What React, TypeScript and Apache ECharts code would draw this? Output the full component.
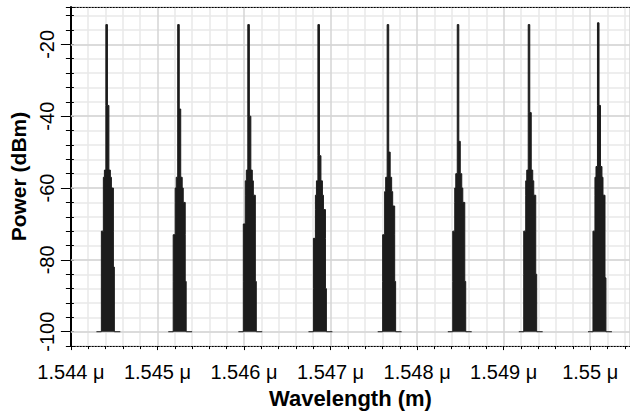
import React, { useEffect, useRef } from "react";
import * as echarts from "echarts";

// Channel centre wavelengths (µm)
const channelCenters = [1.54441, 1.54524, 1.54605, 1.54686, 1.54766, 1.54847, 1.54929, 1.55009];

// Band top levels (dBm) per channel, from the carrier tip downwards
const ch1Levels = [-14.5, -37, -55, -57, -60, -72, -82];
const ch2Levels = [-14.5, -38, -57, -60, -64, -73, -86];
const ch3Levels = [-14.5, -40, -55, -58, -62, -70, -86];
const ch4Levels = [-14.5, -51, -58, -62, -66, -74, -88];
const ch5Levels = [-14.5, -50, -57, -61, -65, -73, -86];
const ch6Levels = [-14.5, -47, -56, -60, -64, -72, -86];
const ch7Levels = [-14.5, -39, -55, -58, -62, -72, -84];
const ch8Levels = [-14, -37, -54, -57, -62, -72, -85];
const channelLevels = [ch1Levels, ch2Levels, ch3Levels, ch4Levels, ch5Levels, ch6Levels, ch7Levels, ch8Levels];

// Band edges relative to the channel centre (pm)
const bandLeftPm = [-6, -6, -23, -35, -35, -58, -58];
const bandRightPm = [12, 29, 46, 58, 81, 81, 92];
// Floor line (-100 dBm) span around each channel (pm)
const floorSpanPm = [-115, 161];
const floorLevel = -100;

const yLabelValues = [-100, -80, -60, -40, -20];

function outline(center: number, levels: number[]) {
  const toX = (pm: number) => center + pm * 1e-6;
  const pts: number[][] = [];
  const n = levels.length;
  pts.push([toX(floorSpanPm[0]), floorLevel]);
  for (let i = n - 1; i >= 0; i--) {
    const bottom = i === n - 1 ? floorLevel : levels[i + 1];
    pts.push([toX(bandLeftPm[i]), bottom]);
    pts.push([toX(bandLeftPm[i]), levels[i]]);
  }
  for (let i = 0; i < n; i++) {
    const bottom = i === n - 1 ? floorLevel : levels[i + 1];
    pts.push([toX(bandRightPm[i]), levels[i]]);
    pts.push([toX(bandRightPm[i]), bottom]);
  }
  pts.push([toX(floorSpanPm[1]), floorLevel]);
  return pts;
}

const FONT = "'Liberation Sans', Arial, sans-serif";
const X_MIN = 1.544;
const X_MAX = 1.55046;
const Y_MIN = -104;
const Y_MAX = -9.6;

export default function App() {
  const ref = useRef<HTMLDivElement>(null);
  useEffect(() => {
    const chart = echarts.init(ref.current!, null, { renderer: "svg" });
    const series: any[] = channelCenters.map((c, i) => ({
      type: "line",
      data: outline(c, channelLevels[i]),
      symbol: "none",
      xAxisIndex: 0,
      yAxisIndex: 0,
      lineStyle: { color: "#1c1c1c", width: 1 },
      areaStyle: { color: "#1c1c1c", opacity: 1, origin: floorLevel },
      z: 5,
    }));
    series.push({
      type: "line",
      data: [],
      xAxisIndex: 0,
      yAxisIndex: 0,
      z: 1,
      markLine: {
        silent: true,
        symbol: "none",
        label: { show: false },
        lineStyle: { color: "#d4d4d4", width: 1.5, type: "solid" },
        data: yLabelValues.map((v) => ({ yAxis: v })),
      },
    });
    chart.setOption({
      animation: false,
      backgroundColor: "#ffffff",
      grid: { left: 69, right: 0, top: 7, bottom: 62, containLabel: false },
      xAxis: [
        {
          type: "value",
          position: "bottom",
          min: X_MIN,
          max: X_MAX,
          interval: 0.001,
          name: "Wavelength (m)",
          nameLocation: "middle",
          nameGap: 39,
          nameTextStyle: { fontFamily: FONT, fontWeight: "bold", fontSize: 22, color: "#000" },
          axisLine: { show: true, onZero: false, lineStyle: { color: "#000", width: 1, type: [1.5, 1.5] } },
          axisTick: { show: true, length: 4, lineStyle: { color: "#000" } },
          minorTick: { show: true, splitNumber: 5, length: 3, lineStyle: { color: "#000" } },
          splitLine: { show: true, lineStyle: { color: "#d4d4d4", width: 1.5 } },
          minorSplitLine: { show: true, lineStyle: { color: "#e8e8e8", width: 1.5 } },
          axisLabel: {
            show: true,
            margin: 16,
            fontFamily: FONT,
            fontSize: 20,
            color: "#000",
            showMaxLabel: false,
            formatter: (v: number) => `${parseFloat(v.toFixed(3))} μ`,
          },
        },
        {
          type: "value",
          position: "top",
          min: X_MIN,
          max: X_MAX,
          axisLine: { show: true, onZero: false, lineStyle: { color: "#000", width: 1, type: [1.5, 1.5] } },
          axisTick: { show: false },
          axisLabel: { show: false },
          splitLine: { show: false },
        },
      ],
      yAxis: [
        {
          type: "value",
          position: "left",
          min: Y_MIN,
          max: Y_MAX,
          interval: 4,
          axisLine: { show: true, onZero: false, lineStyle: { color: "#000", width: 2 } },
          axisTick: { show: true, length: 5, lineStyle: { color: "#000", width: 1 } },
          axisLabel: { show: false },
          splitLine: { show: true, lineStyle: { color: "#e8e8e8", width: 1.5 } },
        },
        {
          type: "value",
          position: "left",
          min: Y_MIN,
          max: Y_MAX,
          name: "Power (dBm)",
          nameLocation: "middle",
          nameGap: 38,
          nameRotate: 90,
          nameTextStyle: { fontFamily: FONT, fontWeight: "bold", fontSize: 21, color: "#000" },
          axisLine: { show: false },
          axisTick: { show: true, length: 10, customValues: yLabelValues, lineStyle: { color: "#000", width: 1 } },
          axisLabel: {
            show: true,
            rotate: 90,
            margin: 14,
            customValues: yLabelValues,
            fontFamily: FONT,
            fontSize: 20,
            color: "#000",
          },
          splitLine: { show: false },
        },
        {
          type: "value",
          position: "left",
          min: Y_MIN,
          max: Y_MAX,
          interval: 4,
          axisLine: { show: false },
          axisTick: { show: true, inside: true, length: 3, lineStyle: { color: "#000", width: 1 } },
          axisLabel: { show: false },
          splitLine: { show: false },
        },
      ],
      series,
    });
    return () => chart.dispose();
  }, []);
  return (
    <div
      ref={ref}
      style={{ position: "absolute", left: 0, top: 0, width: 630, height: 414, background: "#fff" }}
    />
  );
}
